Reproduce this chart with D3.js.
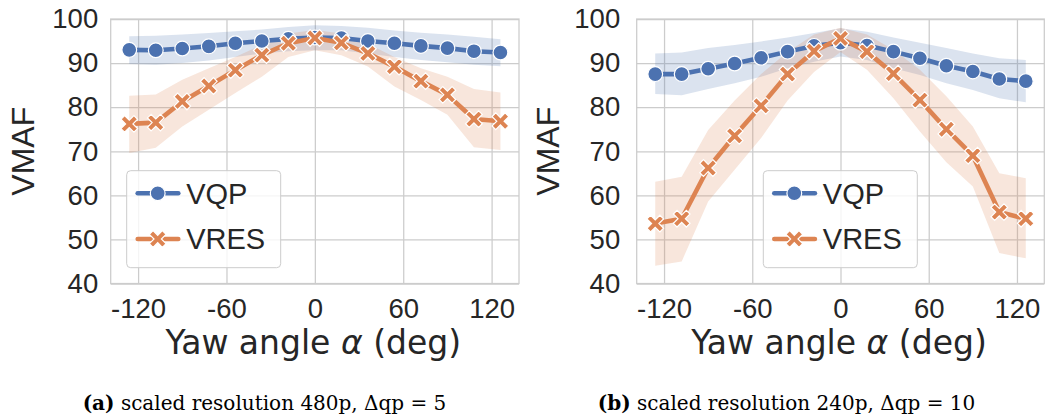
<!DOCTYPE html>
<html>
<head>
<meta charset="utf-8">
<script src="https://cdn.jsdelivr.net/npm/d3@7"></script>
<style>
  body { margin: 0; background: #fff; }
  svg { display: block; }
</style>
</head>
<body>
<div id="chart"></div>
<script>
// yaw angles shared by both panels
const angles = [-126, -108, -90, -72, -54, -36, -18, 0, 18, 36, 54, 72, 90, 108, 126];
const xTicks = [-120, -60, 0, 60, 120];
const yTicks = [40, 50, 60, 70, 80, 90, 100];
const seriesNames = ["VQP", "VRES"];

// panel (a): 480p, dqp = 5
const vqpA   = [93.0, 92.9, 93.3, 93.8, 94.5, 95.0, 95.5, 95.8, 95.7, 95.0, 94.5, 93.9, 93.4, 92.7, 92.4];
const vqpALo = [89.8, 89.6, 90.0, 90.6, 91.4, 92.2, 92.7, 92.9, 92.9, 92.2, 91.4, 90.7, 90.2, 89.6, 89.3];
const vqpAHi = [96.1, 96.2, 96.5, 96.8, 97.2, 97.6, 98.2, 98.6, 98.4, 98.0, 97.4, 96.9, 96.5, 96.0, 95.4];
const vresA   = [76.2, 76.5, 81.3, 84.8, 88.4, 91.8, 94.5, 95.7, 94.6, 92.2, 89.2, 85.9, 82.8, 77.3, 76.8];
const vresALo = [69.6, 70.8, 75.6, 79.4, 83.2, 86.9, 91.4, 92.9, 91.8, 89.2, 84.7, 81.6, 78.3, 70.9, 70.3];
const vresAHi = [82.6, 82.9, 86.2, 88.8, 91.4, 94.1, 96.7, 97.5, 96.7, 94.4, 91.4, 88.8, 86.9, 84.1, 83.3];

// panel (b): 240p, dqp = 10
const vqpB   = [87.5, 87.5, 88.7, 89.9, 91.2, 92.6, 93.9, 94.6, 94.0, 92.6, 91.1, 89.4, 88.1, 86.4, 85.9];
const vqpBLo = [83.0, 82.7, 84.1, 85.4, 86.9, 88.8, 90.3, 91.5, 90.7, 88.8, 87.3, 85.4, 83.9, 82.0, 81.1];
const vqpBHi = [92.2, 92.4, 93.4, 94.1, 94.9, 95.8, 96.8, 97.9, 97.1, 95.8, 94.6, 93.4, 92.2, 91.1, 90.7];
const vresB   = [53.6, 54.7, 66.2, 73.5, 80.3, 87.5, 92.7, 95.6, 92.6, 87.6, 81.6, 75.0, 69.0, 56.2, 54.7];
const vresBLo = [44.0, 45.0, 58.6, 65.8, 73.0, 81.5, 88.0, 92.5, 88.5, 82.0, 74.5, 67.5, 62.0, 46.9, 45.7];
const vresBHi = [63.1, 64.2, 74.8, 81.5, 87.5, 92.5, 96.5, 98.0, 96.5, 93.0, 88.5, 82.5, 75.6, 65.0, 63.9];

const captionTags = ["(a)", "(b)"];
const captionTexts = [" scaled resolution 480p, \u0394qp = 5", " scaled resolution 240p, \u0394qp = 10"];

const COLORS = { VQP: "#4c72b0", VRES: "#dd8452" };
const INK = "#262626";
const GRID = "#cccccc";

var svg = d3.select("#chart").append("svg")
    .attr("width", 1050)
    .attr("height", 420);

// filled "X" marker like matplotlib's
function xMarker (a, w) {
    var pts = [[w, a], [w, w], [a, w], [a, -w], [w, -w], [w, -a],
               [-w, -a], [-w, -w], [-a, -w], [-a, w], [-w, w], [-w, a]];
    var c = Math.SQRT1_2;
    pts = pts.map(function (p) { return [(p[0] - p[1]) * c, (p[0] + p[1]) * c]; });
    return d3.line()(pts) + "Z";
}
const X_PATH = xMarker(9.2, 2.6);

function drawMarker (g, name, cx, cy) {
    if (name === "VQP") {
        g.append("circle")
         .attr("cx", cx).attr("cy", cy).attr("r", 7.4)
         .style("fill", COLORS.VQP)
         .style("stroke", "white")
         .style("stroke-width", 1.2);
    } else {
        g.append("path")
         .attr("d", X_PATH)
         .attr("transform", "translate(" + cx + "," + cy + ")")
         .style("fill", COLORS.VRES)
         .style("stroke", "white")
         .style("stroke-width", 1.2);
    }
}

function drawPanel (p) {
    var w = p.right - p.left;
    var h = p.bottom - p.top;
    var g = svg.append("g").attr("transform", "translate(" + p.left + "," + p.top + ")");

    var x = d3.scaleLinear().domain([-138.6, 138.6]).range([0, w]);
    var y = d3.scaleLinear().domain([40, 100]).range([h, 0]);

    // grid + tick labels
    var xAxis = g.append("g")
        .attr("transform", "translate(0," + h + ")")
        .call(d3.axisBottom(x).tickValues(xTicks).tickSize(-h).tickPadding(15).tickFormat(d3.format("d")));
    var yAxis = g.append("g")
        .call(d3.axisLeft(y).tickValues(yTicks).tickSize(-w).tickPadding(p.yPad).tickFormat(d3.format("d")));

    [xAxis, yAxis].forEach(function (ax) {
        ax.select(".domain").remove();
        ax.selectAll(".tick line").style("stroke", GRID).style("stroke-width", 1.25);
        ax.selectAll(".tick text")
          .style("fill", INK)
          .style("font-family", "'Liberation Sans', Arial, sans-serif")
          .style("font-size", "27.5px");
    });
    xAxis.selectAll(".tick text").text(function (d) { return d < 0 ? "-" + Math.abs(d) : d; });

    // axes frame
    g.append("rect")
     .attr("width", w).attr("height", h)
     .style("fill", "none")
     .style("stroke", GRID)
     .style("stroke-width", 1.25);

    var series = [
        { name: "VQP",  mean: p.vqp,  lo: p.vqpLo,  hi: p.vqpHi },
        { name: "VRES", mean: p.vres, lo: p.vresLo, hi: p.vresHi }
    ];

    // confidence bands under the lines
    series.forEach(function (s) {
        var area = d3.area()
            .x(function (d, i) { return x(angles[i]); })
            .y0(function (d, i) { return y(s.lo[i]); })
            .y1(function (d, i) { return y(s.hi[i]); });
        g.append("path")
         .attr("d", area(s.mean))
         .style("fill", COLORS[s.name])
         .style("fill-opacity", 0.2)
         .style("stroke", "none");
    });

    series.forEach(function (s) {
        var line = d3.line()
            .x(function (d, i) { return x(angles[i]); })
            .y(function (d) { return y(d); });
        g.append("path")
         .attr("d", line(s.mean))
         .style("fill", "none")
         .style("stroke", COLORS[s.name])
         .style("stroke-width", 4.6)
         .style("stroke-linejoin", "round");
        var mg = g.append("g");
        s.mean.forEach(function (d, i) { drawMarker(mg, s.name, x(angles[i]), y(d)); });
    });

    // legend
    var lg = svg.append("g").attr("transform", "translate(" + p.legendX + ",170.7)");
    lg.append("rect")
      .attr("width", 154).attr("height", 97)
      .attr("rx", 4).attr("ry", 4)
      .style("fill", "white")
      .style("fill-opacity", 0.8)
      .style("stroke", GRID)
      .style("stroke-width", 1);
    seriesNames.forEach(function (name, i) {
        var ly = 22.6 + i * 45.7;
        lg.append("line")
          .attr("x1", 11).attr("x2", 51.6)
          .attr("y1", ly).attr("y2", ly)
          .style("stroke", COLORS[name])
          .style("stroke-width", 4.6)
          .style("stroke-linecap", "round");
        drawMarker(lg, name, 31, ly);
        lg.append("text")
          .attr("x", 59.5).attr("y", ly)
          .attr("dy", "0.36em")
          .style("fill", INK)
          .style("font-family", "'Liberation Sans', Arial, sans-serif")
          .style("font-size", "29px")
          .text(name);
    });

    // axis titles
    svg.append("text")
       .attr("transform", "translate(" + p.yLabelX + "," + (p.top + h / 2) + ") rotate(-90)")
       .attr("text-anchor", "middle")
       .attr("dy", "0.36em")
       .style("fill", INK)
       .style("font-family", "'Liberation Sans', Arial, sans-serif")
       .style("font-size", "32px")
       .text("VMAF");

    var xl = svg.append("text")
       .attr("x", p.left + w / 2 - 1.5)
       .attr("y", 354)
       .attr("text-anchor", "middle")
       .style("fill", INK)
       .style("font-family", "'DejaVu Sans', sans-serif")
       .style("font-size", "33px");
    xl.append("tspan").text("Yaw angle ");
    xl.append("tspan").style("font-style", "italic").text("\u03b1");
    xl.append("tspan").text(" (deg)");

    // caption
    var cap = svg.append("text")
       .attr("x", p.captionX)
       .attr("y", 410)
       .attr("text-anchor", "middle")
       .style("fill", "black")
       .style("font-family", "'DejaVu Serif', serif")
       .style("font-size", "20px");
    cap.append("tspan").style("font-weight", "bold").text(p.tag);
    cap.append("tspan").text(p.caption);
}

drawPanel({
    left: 110.7, right: 519, top: 19, bottom: 283.5, yPad: 12.5,
    legendX: 126.7, yLabelX: 22.3, captionX: 264.5,
    vqp: vqpA, vqpLo: vqpALo, vqpHi: vqpAHi,
    vres: vresA, vresLo: vresALo, vresHi: vresAHi,
    tag: captionTags[0], caption: captionTexts[0]
});

drawPanel({
    left: 636.7, right: 1044.3, top: 19, bottom: 283.5, yPad: 16.5,
    legendX: 763.3, yLabelX: 547.5, captionX: 786.5,
    vqp: vqpB, vqpLo: vqpBLo, vqpHi: vqpBHi,
    vres: vresB, vresLo: vresBLo, vresHi: vresBHi,
    tag: captionTags[1], caption: captionTexts[1]
});
</script>
</body>
</html>
